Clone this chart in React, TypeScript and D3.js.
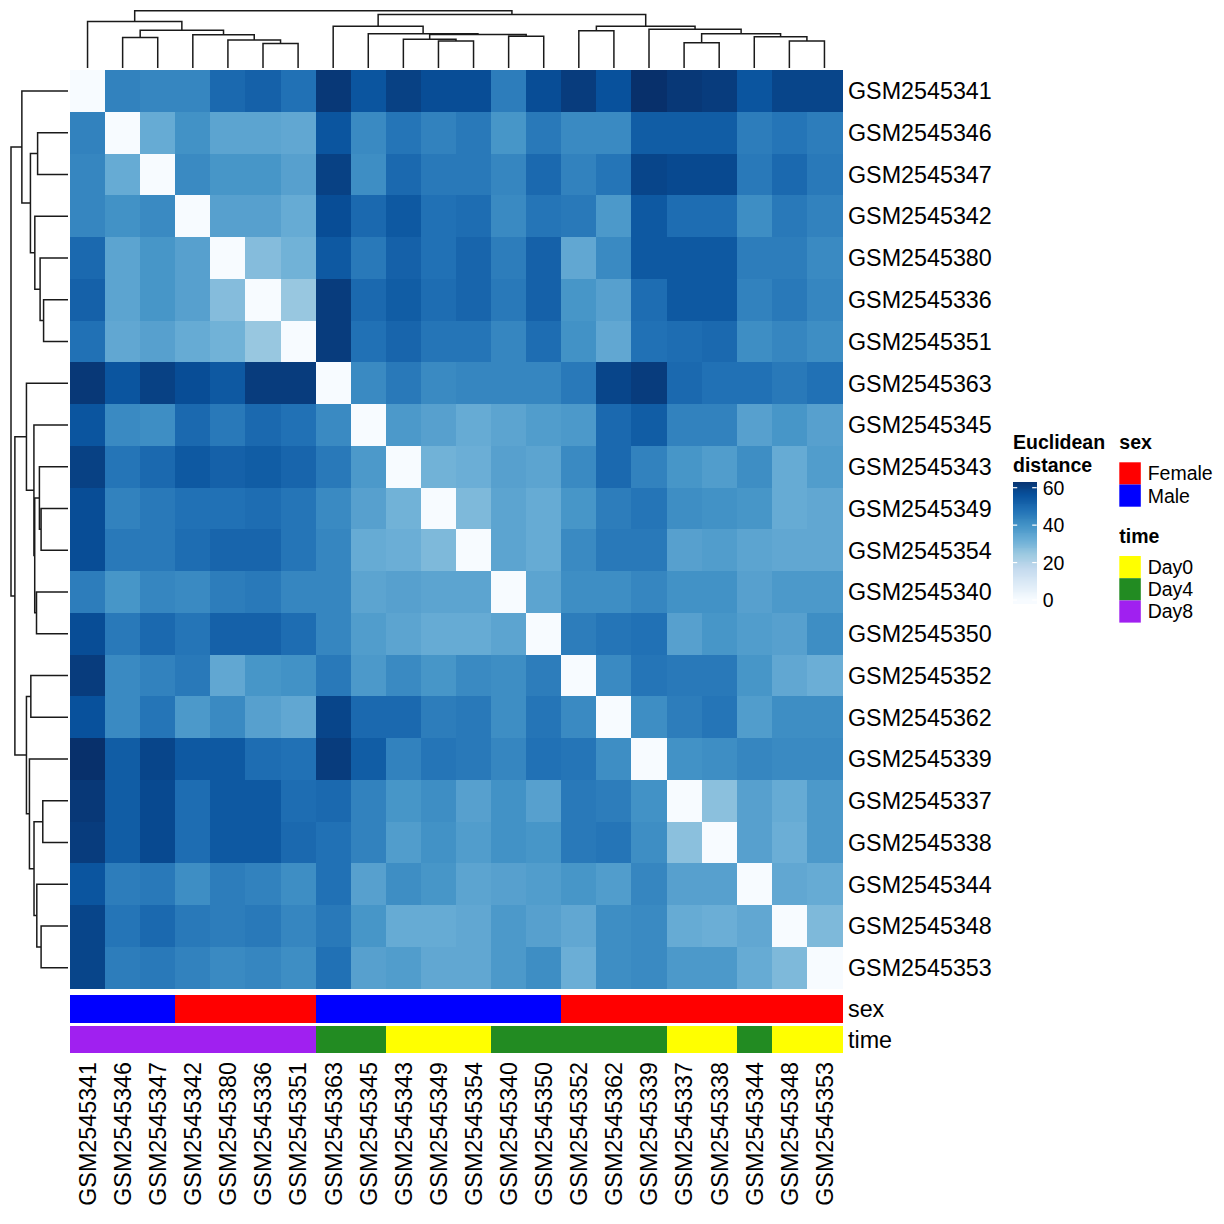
import React from "react";
import * as d3 from "d3";

// ---------- data ----------
const samples = [
  "GSM2545341", "GSM2545346", "GSM2545347", "GSM2545342", "GSM2545380", "GSM2545336",
  "GSM2545351", "GSM2545363", "GSM2545345", "GSM2545343", "GSM2545349", "GSM2545354",
  "GSM2545340", "GSM2545350", "GSM2545352", "GSM2545362", "GSM2545339", "GSM2545337",
  "GSM2545338", "GSM2545344", "GSM2545348", "GSM2545353",
];
const sexOf = [
  "Male", "Male", "Male", "Female", "Female", "Female", "Female", "Male", "Male", "Male", "Male",
  "Male", "Male", "Male", "Female", "Female", "Female", "Female", "Female", "Female", "Female", "Female",
];
const timeOf = [
  "Day8", "Day8", "Day8", "Day8", "Day8", "Day8", "Day8", "Day4", "Day4", "Day0", "Day0",
  "Day0", "Day4", "Day4", "Day4", "Day4", "Day4", "Day0", "Day0", "Day4", "Day0", "Day0",
];

// upper triangle of the Euclidean distance matrix (row i, columns i+1..21)
const dist341 = [44, 43, 43, 50, 52, 48, 62, 55, 60, 57, 57, 45, 57, 61, 56, 64, 62, 61, 55, 59, 59];
const dist346 = [33, 40, 35, 35, 34, 55, 42, 47, 44, 46, 39, 46, 42, 42, 53, 53, 53, 45, 47, 45];
const dist347 = [42, 39, 39, 36, 60, 41, 50, 46, 46, 43, 50, 44, 47, 59, 58, 58, 46, 50, 46];
const dist342 = [36, 36, 33, 57, 50, 54, 48, 49, 42, 47, 46, 38, 54, 49, 49, 41, 46, 44];
const dist380 = [28, 31, 54, 46, 52, 48, 51, 45, 52, 34, 42, 54, 54, 54, 45, 45, 42];
const dist336 = [25, 61, 50, 53, 49, 51, 46, 52, 39, 36, 49, 54, 54, 44, 46, 43];
const dist351 = [61, 48, 51, 47, 47, 43, 49, 40, 34, 48, 49, 50, 41, 43, 41];
const dist363 = [42, 46, 42, 43, 43, 43, 46, 59, 61, 50, 48, 48, 46, 48];
const dist345 = [38, 36, 33, 35, 37, 38, 50, 53, 44, 44, 36, 39, 36];
const dist343 = [31, 32, 36, 35, 42, 50, 44, 39, 37, 41, 33, 37];
const dist349 = [29, 35, 33, 39, 45, 47, 41, 40, 39, 33, 34];
const dist354 = [35, 33, 42, 46, 46, 36, 37, 35, 34, 34];
const dist340 = [35, 41, 41, 43, 40, 40, 36, 38, 38];
const dist350 = [45, 47, 48, 36, 39, 37, 36, 41];
const dist352 = [42, 47, 46, 46, 39, 34, 32];
const dist362 = [41, 45, 47, 37, 41, 41];
const dist339 = [40, 41, 43, 42, 42];
const dist337 = [27, 36, 33, 38];
const dist338 = [36, 32, 38];
const dist344 = [34, 33];
const dist348 = [29];
const upperRows = [
  dist341, dist346, dist347, dist342, dist380, dist336, dist351, dist363, dist345, dist343, dist349,
  dist354, dist340, dist350, dist352, dist362, dist339, dist337, dist338, dist344, dist348, [],
];

// hierarchical clustering merges: [child A, child B, height]; "#k" refers to merge k
const merges: [string, string, number][] = [
  ["GSM2545346", "GSM2545347", 30.5],
  ["GSM2545336", "GSM2545351", 24.5],
  ["GSM2545380", "#1", 28],
  ["GSM2545342", "#2", 33.3],
  ["#0", "#3", 37.7],
  ["GSM2545341", "#4", 46.3],
  ["GSM2545349", "GSM2545354", 27],
  ["GSM2545343", "#6", 28.7],
  ["GSM2545340", "GSM2545350", 31.6],
  ["#7", "#8", 33.4],
  ["GSM2545345", "#9", 34.2],
  ["GSM2545363", "#10", 41.7],
  ["GSM2545352", "GSM2545362", 37.3],
  ["GSM2545337", "GSM2545338", 25.3],
  ["GSM2545348", "GSM2545353", 27],
  ["GSM2545344", "#14", 31.3],
  ["#13", "#15", 34.1],
  ["GSM2545339", "#16", 38.7],
  ["#12", "#17", 41.7],
  ["#11", "#18", 53.3],
  ["#5", "#19", 57.2],
];

const legendTicks = [0, 20, 40, 60];
const sexLevels = ["Female", "Male"];
const sexColors = ["#FF0000", "#0000FF"];
const timeLevels = ["Day0", "Day4", "Day8"];
const timeColors = ["#FFFF00", "#228B22", "#A020F0"];
const blues9 = ["#F7FBFF", "#DEEBF7", "#C6DBEF", "#9ECAE1", "#6BAED6", "#4292C6", "#2171B5", "#08519C", "#08306B"];

// ---------- layout ----------
const FONT = "'Liberation Sans', Arial, Helvetica, sans-serif";
const hmLeft = 70, hmRight = 842, hmTop = 70, hmBottom = 988.7;
const labelFs = 23.3;
const legendFs = 19.5;

function distValue(i: number, j: number) {
  if (i === j) return 0;
  return i < j ? upperRows[i][j - i - 1] : upperRows[j][i - j - 1];
}

function dendroSegments(pos: (id: string) => number) {
  const nodePos: number[] = [];
  const nodeH: number[] = [];
  const get = (c: string): [number, number] => {
    if (c.startsWith("#")) {
      const k = +c.slice(1);
      return [nodePos[k], nodeH[k]];
    }
    return [pos(c), 0];
  };
  const segs: { p1: number; h1: number; p2: number; h2: number; h: number }[] = [];
  merges.forEach(([a, b, h], k) => {
    const [p1, h1] = get(a);
    const [p2, h2] = get(b);
    nodePos[k] = (p1 + p2) / 2;
    nodeH[k] = h;
    segs.push({ p1, h1, p2, h2, h });
  });
  return segs;
}

export default function App() {
  const colX = d3.scaleBand<string>().domain(samples).range([hmLeft, hmRight]);
  const rowY = d3.scaleBand<string>().domain(samples).range([hmTop, hmBottom]);
  const maxH = d3.max(merges, (m) => m[2]) as number;
  const topH = d3.scaleLinear().domain([0, maxH]).range([68, 10.7]);
  const leftH = d3.scaleLinear().domain([0, maxH]).range([68, 11]);
  const color = d3
    .scaleLinear<string>()
    .domain(blues9.map((_, i) => (i * 64) / 8))
    .range(blues9)
    .interpolate(d3.interpolateRgb)
    .clamp(true);
  const sexScale = d3.scaleOrdinal<string, string>().domain(sexLevels).range(sexColors);
  const timeScale = d3.scaleOrdinal<string, string>().domain(timeLevels).range(timeColors);

  const colSegs = dendroSegments((id) => (colX(id) as number) + colX.bandwidth() / 2);
  const rowSegs = dendroSegments((id) => (rowY(id) as number) + rowY.bandwidth() / 2);

  const topPath = colSegs
    .map((s) => `M${s.p1},${topH(s.h1)}V${topH(s.h)}H${s.p2}V${topH(s.h2)}`)
    .join("");
  const leftPath = rowSegs
    .map((s) => `M${leftH(s.h1)},${s.p1}H${leftH(s.h)}V${s.p2}H${leftH(s.h2)}`)
    .join("");

  // legend colorbar
  const legY = d3.scaleLinear().domain([0, 60]).range([600, 487.7]);
  const barVals = d3.range(-1.8, 63, 0.5);
  const barX = 1012.7, barW = 24;

  const sexTop = 995, annH = 27.8, timeTop = 1025.5;
  const cw = colX.bandwidth();
  const rh = rowY.bandwidth();

  return (
    <div style={{ position: "absolute", left: 0, top: 0 }}>
      <svg width={1224} height={1224} style={{ display: "block", background: "#fff" }} fontFamily={FONT}>
        <rect width={1224} height={1224} fill="#fff" />
        {/* heatmap */}
        <g shapeRendering="crispEdges">
          {samples.map((r, i) =>
            samples.map((c, j) => (
              <rect
                key={`${i}-${j}`}
                x={colX(c)}
                y={rowY(r)}
                width={cw + 0.5}
                height={rh + 0.5}
                fill={color(distValue(i, j))}
              />
            ))
          )}
        </g>
        {/* dendrograms */}
        <path d={topPath} fill="none" stroke="#1a1a1a" strokeWidth={1.5} />
        <path d={leftPath} fill="none" stroke="#1a1a1a" strokeWidth={1.5} />
        {/* annotations */}
        <g shapeRendering="crispEdges">
          {samples.map((s, j) => (
            <rect key={`sx${j}`} x={colX(s)} y={sexTop} width={cw + 0.5} height={annH} fill={sexScale(sexOf[j])} />
          ))}
          {samples.map((s, j) => (
            <rect key={`tm${j}`} x={colX(s)} y={timeTop} width={cw + 0.5} height={annH} fill={timeScale(timeOf[j])} />
          ))}
        </g>
        <text x={848} y={sexTop + annH / 2 + 0.358 * labelFs} fontSize={labelFs}>sex</text>
        <text x={848} y={timeTop + annH / 2 + 0.358 * labelFs} fontSize={labelFs}>time</text>
        {/* row labels */}
        {samples.map((s) => (
          <text key={`rl${s}`} x={848} y={(rowY(s) as number) + rh / 2 + 0.358 * labelFs} fontSize={labelFs}>
            {s}
          </text>
        ))}
        {/* column labels */}
        {samples.map((s) => (
          <text
            key={`cl${s}`}
            transform={`translate(${(colX(s) as number) + cw / 2},1062) rotate(-90)`}
            y={0.358 * labelFs}
            textAnchor="end"
            fontSize={labelFs}
          >
            {s}
          </text>
        ))}
        {/* color legend */}
        <text x={1013} y={449.3} fontSize={legendFs} fontWeight="bold">Euclidean</text>
        <text x={1013} y={471.7} fontSize={legendFs} fontWeight="bold">distance</text>
        <g shapeRendering="crispEdges">
          {barVals.map((v) => (
            <rect key={`lb${v}`} x={barX} y={legY(v + 0.5)} width={barW} height={Math.abs(legY(v) - legY(v + 0.5)) + 0.3} fill={color(Math.max(0, v))} />
          ))}
        </g>
        {legendTicks.map((t) => (
          <g key={`lt${t}`}>
            <line x1={barX} x2={barX + 4.5} y1={legY(t)} y2={legY(t)} stroke="#fff" strokeWidth={1.2} />
            <line x1={barX + barW - 4.5} x2={barX + barW} y1={legY(t)} y2={legY(t)} stroke="#fff" strokeWidth={1.2} />
            <text x={1042.7} y={legY(t) + 0.358 * legendFs} fontSize={legendFs}>{t}</text>
          </g>
        ))}
        {/* sex legend */}
        <text x={1119.3} y={449.3} fontSize={legendFs} fontWeight="bold">sex</text>
        {sexLevels.map((l, i) => (
          <g key={`sl${l}`}>
            <rect x={1119.3} y={462.3 + i * 22.2} width={21.5} height={22.2} fill={sexScale(l)} />
            <text x={1147.7} y={462.3 + i * 22.2 + 11.1 + 0.358 * legendFs} fontSize={legendFs}>{l}</text>
          </g>
        ))}
        {/* time legend */}
        <text x={1119.3} y={543.3} fontSize={legendFs} fontWeight="bold">time</text>
        {timeLevels.map((l, i) => (
          <g key={`tl${l}`}>
            <rect x={1119.3} y={556 + i * 22.2} width={21.5} height={22.2} fill={timeScale(l)} />
            <text x={1147.7} y={556 + i * 22.2 + 11.1 + 0.358 * legendFs} fontSize={legendFs}>{l}</text>
          </g>
        ))}
      </svg>
    </div>
  );
}
